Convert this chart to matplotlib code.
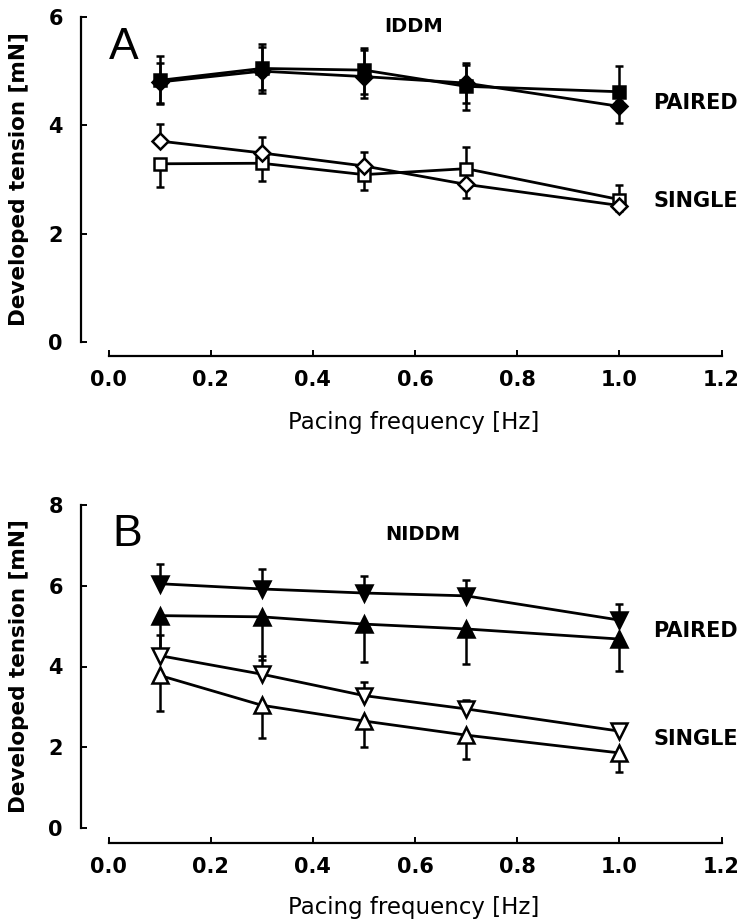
import matplotlib.pyplot as plt
import numpy as np

freq = [0.1, 0.3, 0.5, 0.7, 1.0]

# panel A (IDDM)
a_paired_sq = [4.83, 5.05, 5.02, 4.72, 4.62]
a_paired_sq_lo = [0.42, 0.40, 0.45, 0.30, 0.0]
a_paired_sq_hi = [0.45, 0.40, 0.40, 0.40, 0.48]
a_paired_dia = [4.80, 5.00, 4.90, 4.78, 4.35]
a_paired_dia_lo = [0.40, 0.40, 0.40, 0.50, 0.30]
a_paired_dia_hi = [0.35, 0.50, 0.50, 0.38, 0.10]
a_single_dia = [3.71, 3.49, 3.25, 2.91, 2.52]
a_single_dia_lo = [0.0, 0.0, 0.0, 0.25, 0.10]
a_single_dia_hi = [0.31, 0.30, 0.25, 0.0, 0.0]
a_single_sq = [3.29, 3.30, 3.09, 3.20, 2.63]
a_single_sq_lo = [0.43, 0.33, 0.29, 0.0, 0.0]
a_single_sq_hi = [0.0, 0.0, 0.0, 0.40, 0.26]

# panel B (NIDDM)
b_paired_down = [6.05, 5.92, 5.82, 5.75, 5.15]
b_paired_down_hi = [0.48, 0.50, 0.43, 0.39, 0.41]
b_paired_up = [5.26, 5.23, 5.05, 4.93, 4.68]
b_paired_up_lo = [0.90, 1.08, 0.95, 0.87, 0.80]
b_single_down = [4.27, 3.81, 3.28, 2.95, 2.40]
b_single_down_hi = [0.50, 0.45, 0.33, 0.22, 0.10]
b_single_up = [3.78, 3.04, 2.65, 2.30, 1.86]
b_single_up_lo = [0.88, 0.81, 0.65, 0.58, 0.47]

xticks = [0.0, 0.2, 0.4, 0.6, 0.8, 1.0, 1.2]

W, H = 746, 924
fig = plt.figure(figsize=(W / 100, H / 100), dpi=100)


def make_ax(left, right, y0, ytop, ymax, xoff):
    ax = fig.add_axes([left / W, 1 - y0 / H, (right - left) / W, (y0 - ytop) / H])
    ax.set_xlim(0, 1.2)
    ax.set_ylim(0, ymax)
    ax.spines["top"].set_visible(False)
    ax.spines["right"].set_visible(False)
    ax.spines["left"].set_position(("outward", 19.8))
    ax.spines["bottom"].set_position(("outward", xoff))
    ax.spines["left"].set_linewidth(1.6)
    ax.spines["bottom"].set_linewidth(1.6)
    ax.set_xticks(xticks)
    ax.set_xticklabels([f"{t:.1f}" for t in xticks])
    ax.tick_params(direction="in", length=4, width=1.4, labelsize=15)
    ax.tick_params(axis="x", pad=10)
    ax.tick_params(axis="y", pad=13)
    ax.set_xlabel("Pacing frequency [Hz]", fontsize=16.5)
    ax.set_ylabel("Developed tension [mN]", fontsize=15.5, fontweight="bold")
    return ax


def series(ax, y, lo, hi, marker, filled, ms=9):
    ax.errorbar(freq, y, yerr=[lo, hi], fmt="none", ecolor="black",
                elinewidth=1.8, capsize=3, capthick=1.8, zorder=2)
    ax.plot(freq, y, color="black", linewidth=2.0, marker=marker, markersize=ms,
            markerfacecolor="black" if filled else "white",
            markeredgecolor="black", markeredgewidth=1.8, zorder=3)


zeros = [0.0] * 5

axA = make_ax(108.5, 721.5, 342, 17, 6, 10.1)
axA.set_yticks([0, 2, 4, 6])
for lab in axA.get_xticklabels() + axA.get_yticklabels():
    lab.set_fontweight("bold")
axA.xaxis.set_label_coords(0.4976, -0.212)
axA.yaxis.set_label_coords(-0.13, 0.5)
series(axA, a_paired_sq, a_paired_sq_lo, a_paired_sq_hi, "s", True, 9)
series(axA, a_paired_dia, a_paired_dia_lo, a_paired_dia_hi, "D", True, 8.5)
series(axA, a_single_sq, a_single_sq_lo, a_single_sq_hi, "s", False, 9)
series(axA, a_single_dia, a_single_dia_lo, a_single_dia_hi, "D", False, 8.5)
axA.text(0.0, 5.22, "A", fontsize=32, fontfamily="Liberation Sans", va="baseline")
axA.text(0.598, 5.82, "IDDM", fontsize=14, fontweight="bold", ha="center", va="center")
axA.text(1.066, 4.41, "PAIRED", fontsize=15, fontweight="bold", ha="left", va="center")
axA.text(1.066, 2.6, "SINGLE", fontsize=15, fontweight="bold", ha="left", va="center")

axB = make_ax(108.5, 721.5, 828, 505, 8, 10.8)
axB.set_yticks([0, 2, 4, 6, 8])
for lab in axB.get_xticklabels() + axB.get_yticklabels():
    lab.set_fontweight("bold")
axB.xaxis.set_label_coords(0.4976, -0.212)
axB.yaxis.set_label_coords(-0.13, 0.5)
series(axB, b_paired_down, zeros, b_paired_down_hi, "v", True, 11)
series(axB, b_paired_up, b_paired_up_lo, zeros, "^", True, 11)
series(axB, b_single_down, zeros, b_single_down_hi, "v", False, 11)
series(axB, b_single_up, b_single_up_lo, zeros, "^", False, 11)
axB.text(0.007, 6.99, "B", fontsize=32, fontfamily="Liberation Sans", va="baseline")
axB.text(0.616, 7.28, "NIDDM", fontsize=14, fontweight="bold", ha="center", va="center")
axB.text(1.066, 4.89, "PAIRED", fontsize=15, fontweight="bold", ha="left", va="center")
axB.text(1.066, 2.2, "SINGLE", fontsize=15, fontweight="bold", ha="left", va="center")

fig.savefig("out.png", dpi=100)
